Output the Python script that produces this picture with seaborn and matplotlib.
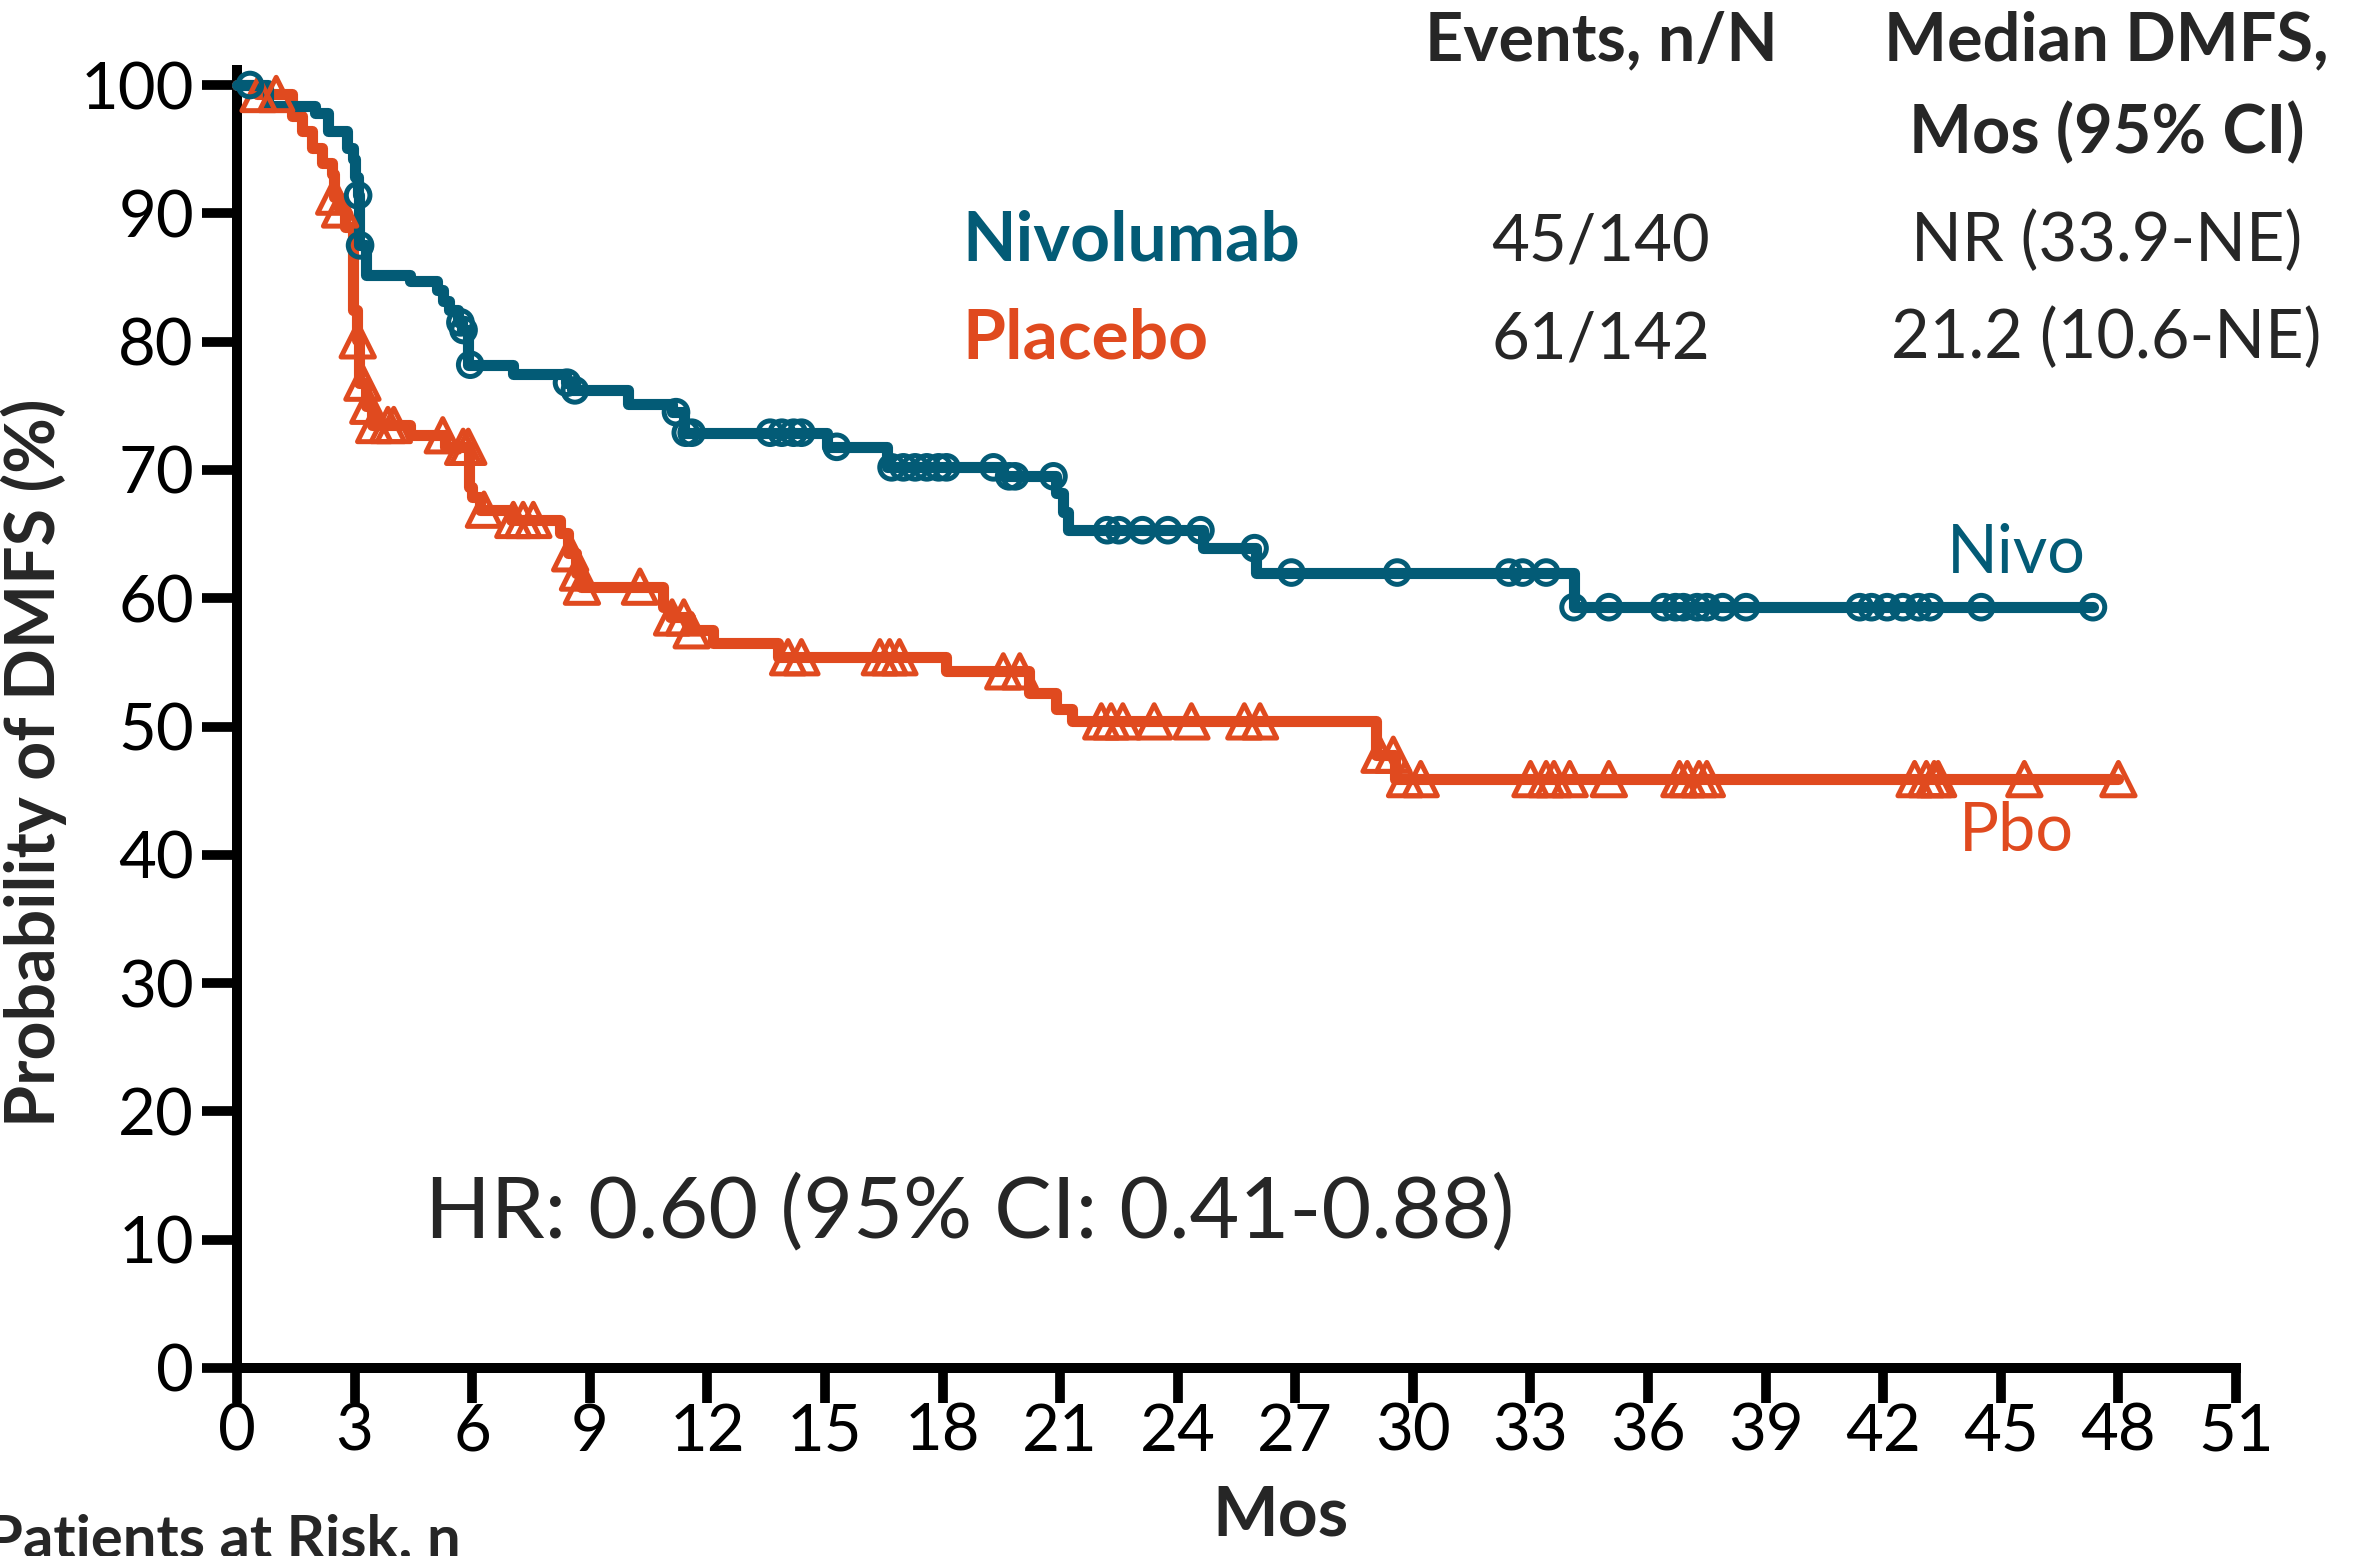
import numpy as np
import pandas as pd
import matplotlib
matplotlib.use("Agg")
import matplotlib.pyplot as plt
import seaborn as sns

# ---- Kaplan-Meier data (months, DMFS %) ----
# times at which each curve steps down, and the level reached after each step
nivo_event_months = [0.80, 1.99, 2.33, 2.80, 2.96, 3.02, 3.08, 3.12, 3.30, 4.41,
                     5.10, 5.26, 5.40, 5.65, 5.75, 5.90, 7.05, 8.40, 8.55, 9.98,
                     11.10, 11.40, 15.05, 16.58, 19.55, 20.90, 21.07, 21.20, 24.65,
                     26.00, 34.10]
nivo_levels = [98.4, 97.8, 96.4, 95.1, 94.2, 92.8, 91.4, 87.5, 85.2, 84.7,
               84.0, 83.2, 82.5, 81.5, 80.9, 78.2, 77.5, 76.8, 76.2, 75.1,
               74.5, 72.9, 71.8, 70.2, 69.5, 68.2, 66.7, 65.3, 63.9,
               62.0, 59.3]
nivo_last_month = 47.35
nivo_censor_months = [0.33, 3.09, 3.14, 5.70, 5.78, 5.95, 8.42, 8.62, 11.20, 11.45,
                      11.60, 13.60, 13.90, 14.20, 14.40, 15.30, 16.70, 17.00, 17.30,
                      17.60, 17.90, 18.10, 19.30, 19.70, 19.85, 20.83, 22.20, 22.50,
                      23.10, 23.75, 24.58, 25.96, 26.90, 29.60, 32.45, 32.80, 33.40,
                      34.10, 35.00, 36.40, 36.70, 36.90, 37.25, 37.50, 37.90, 38.50,
                      41.40, 41.70, 42.10, 42.50, 42.90, 43.20, 44.50, 47.35]

pbo_event_months = [0.50, 1.40, 1.66, 1.91, 2.17, 2.43, 2.47, 2.60, 2.75, 2.95,
                    3.05, 3.12, 3.30, 3.45, 4.41, 5.30, 5.93, 6.00, 6.20, 7.00,
                    8.24, 8.45, 8.65, 8.78, 10.87, 11.05, 11.56, 12.15, 13.80,
                    18.10, 20.20, 20.90, 21.30, 29.05, 29.55]
pbo_levels = [99.3, 97.6, 96.4, 95.1, 93.9, 93.1, 91.3, 90.3, 88.9, 82.5,
              80.1, 76.8, 75.0, 73.5, 72.7, 71.8, 68.7, 67.9, 66.9, 66.1,
              65.1, 63.5, 62.0, 60.9, 59.3, 58.5, 57.5, 56.5, 55.4,
              54.3, 52.6, 51.4, 50.4, 47.8, 45.9]
pbo_last_month = 48.0
pbo_censor_months = [0.55, 1.00, 2.48, 2.63, 3.08, 3.20, 3.35, 3.50, 3.85, 4.00,
                     5.25, 5.77, 5.90, 6.30, 7.05, 7.30, 7.56, 8.50, 8.70, 8.80,
                     10.28, 11.10, 11.40, 11.60, 14.06, 14.40, 16.40, 16.65, 16.90,
                     19.55, 19.97, 22.05, 22.30, 22.60, 23.40, 24.35, 25.70, 26.10,
                     29.15, 29.50, 29.80, 30.20, 33.00, 33.40, 33.60, 34.00, 35.00,
                     36.80, 37.00, 37.30, 37.50, 42.80, 43.10, 43.30, 43.40, 45.60,
                     48.00]

x_ticks = list(range(0, 52, 3))
y_ticks = list(range(0, 101, 10))

table_rows = [("Nivolumab", "45/140", "NR (33.9-NE)"),
              ("Placebo", "61/142", "21.2 (10.6-NE)")]
hr_text = "HR: 0.60 (95% CI: 0.41-0.88)"

NIVO_COLOR = "#035B76"
PBO_COLOR = "#E04A1F"


def step_frame(event_months, levels, last_month, arm):
    xs = [0.0] + list(event_months) + [last_month]
    ys = [100.0] + list(levels) + [levels[-1]]
    return pd.DataFrame({"month": xs, "dmfs": ys, "arm": arm})


def censor_frame(curve, censor_months, arm):
    xs = curve["month"].to_numpy()
    ys = curve["dmfs"].to_numpy()
    idx = np.searchsorted(xs, censor_months, side="right") - 1
    return pd.DataFrame({"month": censor_months, "dmfs": ys[idx], "arm": arm})


nivo_curve = step_frame(nivo_event_months, nivo_levels, nivo_last_month, "Nivolumab")
pbo_curve = step_frame(pbo_event_months, pbo_levels, pbo_last_month, "Placebo")
nivo_cens = censor_frame(nivo_curve, nivo_censor_months, "Nivolumab")
pbo_cens = censor_frame(pbo_curve, pbo_censor_months, "Placebo")

sns.set_style("ticks")
plt.rcParams["font.family"] = ["Lato", "DejaVu Sans"]

W, H = 2357, 1556
fig = plt.figure(figsize=(W / 100, H / 100), dpi=100)
ax = fig.add_axes([237 / W, 188 / H, (2236 - 237) / W, (1368 - 70) / H])

lw = 8
sns.lineplot(data=pbo_curve, x="month", y="dmfs", drawstyle="steps-post",
             color=PBO_COLOR, linewidth=lw, estimator=None, sort=False, ax=ax,
             clip_on=False, zorder=3)
sns.lineplot(data=nivo_curve, x="month", y="dmfs", drawstyle="steps-post",
             color=NIVO_COLOR, linewidth=lw, estimator=None, sort=False, ax=ax,
             clip_on=False, zorder=4)
sns.scatterplot(data=pbo_cens, x="month", y="dmfs", marker="^", s=24 ** 2,
                facecolors="none", edgecolor=PBO_COLOR, linewidth=3.6, ax=ax,
                clip_on=False, zorder=5)
sns.scatterplot(data=nivo_cens, x="month", y="dmfs", marker="o", s=17 ** 2,
                facecolors="none", edgecolor=NIVO_COLOR, linewidth=3.6, ax=ax,
                clip_on=False, zorder=6)

ax.set_xlim(0, 51)
ax.set_ylim(0, 101.17)
ax.set_xticks(x_ticks)
ax.set_yticks(y_ticks)
ax.tick_params(axis="both", direction="out", length=25, width=7, labelsize=47,
               color="black", labelcolor="black")
ax.tick_params(axis="x", pad=0)
ax.tick_params(axis="y", pad=6)
for side in ("top", "right"):
    ax.spines[side].set_visible(False)
for side in ("left", "bottom"):
    ax.spines[side].set_linewidth(7.2)
    ax.spines[side].set_color("black")

ax.set_xlabel("Mos", fontsize=50, fontweight="bold")
ax.xaxis.set_label_coords(0.522, -0.09)
ax.set_ylabel("Probability of DMFS (%)", fontsize=49, fontweight="bold")
ax.yaxis.set_label_coords(-0.085, 0.466)

# header of the summary table
ax.text(34.8, 101.9, "Events, n/N", ha="center", va="baseline", fontsize=48,
        fontweight="bold", clip_on=False)
ax.text(47.7, 101.9, "Median DMFS,", ha="center", va="baseline", fontsize=48,
        fontweight="bold", clip_on=False)
ax.text(47.7, 94.7, "Mos (95% CI)", ha="center", va="baseline", fontsize=48,
        fontweight="bold", clip_on=False)

row_y = [86.3, 78.7]
for (arm, events, median), yv, col in zip(table_rows, row_y, [NIVO_COLOR, PBO_COLOR]):
    ax.text(18.5, yv, arm, ha="left", va="baseline", fontsize=50,
            fontweight="bold", color=col, clip_on=False)
    ax.text(34.8, yv, events, ha="center", va="baseline", fontsize=47, clip_on=False)
    ax.text(47.7, yv, median, ha="center", va="baseline", fontsize=48, clip_on=False)

ax.text(45.4, 62.0, "Nivo", ha="center", va="baseline", fontsize=48,
        color=NIVO_COLOR)
ax.text(45.4, 40.3, "Pbo", ha="center", va="baseline", fontsize=48,
        color=PBO_COLOR)

ax.text(4.8, 10.2, hr_text, ha="left", va="baseline", fontsize=62)

fig.text(-14 / W, 1 - 1557 / H, "Patients at Risk, n", ha="left", va="baseline",
         fontsize=43, fontweight="bold")

fig.savefig("out.png", dpi=100)
